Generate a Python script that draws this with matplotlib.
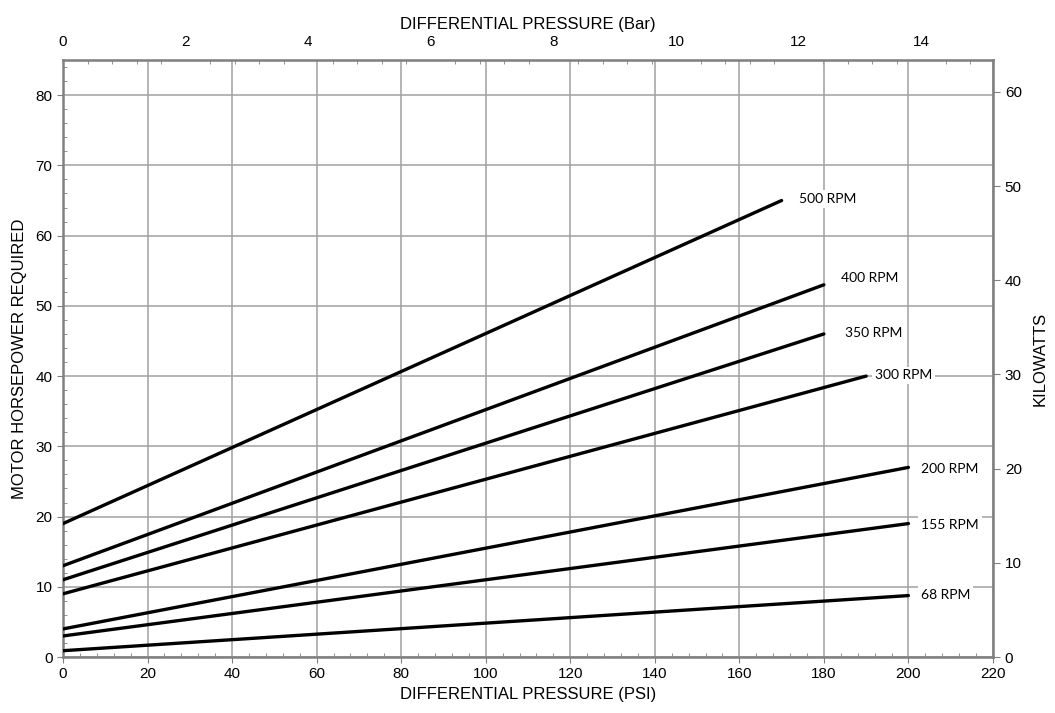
import matplotlib
matplotlib.use("Agg")
import matplotlib.pyplot as plt
from matplotlib.ticker import MultipleLocator

# curvas de potencia (PSI -> HP)
rpm_labels = ["500 RPM", "400 RPM", "350 RPM", "300 RPM", "200 RPM", "155 RPM", "68 RPM"]
psi_start = [0, 0, 0, 0, 0, 0, 0]
psi_end = [170, 180, 180, 190, 200, 200, 200]
hp_start = [19, 13, 11, 9, 4, 3, 0.9]
hp_end = [65, 53, 46, 40, 27, 19, 8.75]
# posicao dos rotulos (psi, hp)
label_psi = [174, 184, 185, 192, 203, 203, 203]
label_hp = [65.2, 54.0, 46.2, 40.1, 26.8, 18.8, 8.8]

bar_ticks = [0, 2, 4, 6, 8, 10, 12, 14]
kw_ticks = [0, 10, 20, 30, 40, 50, 60]

PSI_PER_BAR = 14.5038
KW_PER_HP = 0.7457

plt.rcParams['font.family'] = ['Liberation Sans', 'DejaVu Sans']

fig = plt.figure(figsize=(10.55, 7.13), dpi=100)
ax = fig.add_axes([0.0597, 0.0785, 0.9412 - 0.0597, 0.9158 - 0.0785])

for i in range(len(rpm_labels)):
    ax.plot([psi_start[i], psi_end[i]], [hp_start[i], hp_end[i]], color="black",
            lw=2.4, solid_capstyle="round", zorder=3)
    ax.text(label_psi[i], label_hp[i], rpm_labels[i], fontsize=10, family="Lato",
            va="center", ha="left", zorder=4,
            bbox=dict(facecolor="white", edgecolor="none", pad=2))

ax.set_xlim(0, 220)
ax.set_ylim(0, 85)
ax.set_xticks(range(0, 221, 20))
ax.set_yticks(range(0, 81, 10))
ax.xaxis.set_minor_locator(MultipleLocator(4))
ax.yaxis.set_minor_locator(MultipleLocator(2))
ax.grid(True, which="major", color="#a0a0a0", lw=1.1, zorder=1)
ax.tick_params(which="major", direction="out", length=4, color="#808080", labelsize=11)
ax.tick_params(which="minor", direction="in", length=3, color="#808080")
for s in ax.spines.values():
    s.set_color("#808080")
    s.set_linewidth(1.8)

ax.set_xlabel("DIFFERENTIAL PRESSURE (PSI)", fontsize=12, labelpad=4)
ax.set_ylabel("MOTOR HORSEPOWER REQUIRED", fontsize=12, labelpad=6)

top = ax.secondary_xaxis("top", functions=(lambda p: p / PSI_PER_BAR, lambda b: b * PSI_PER_BAR))
top.set_xticks(bar_ticks)
top.xaxis.set_minor_locator(MultipleLocator(0.4))
top.tick_params(which="major", direction="in", length=0, labelsize=11, pad=8)
top.tick_params(which="minor", direction="in", length=3, color="#808080")
top.set_xlabel("DIFFERENTIAL PRESSURE (Bar)", fontsize=12, labelpad=4)

right = ax.secondary_yaxis("right", functions=(lambda h: h * KW_PER_HP, lambda k: k / KW_PER_HP))
right.set_yticks(kw_ticks)
right.tick_params(which="major", direction="out", length=5, color="#808080", labelsize=11)
right.tick_params(which="minor", length=0)
right.set_ylabel("KILOWATTS", fontsize=12, labelpad=8)

fig.savefig("out.png", dpi=100)
